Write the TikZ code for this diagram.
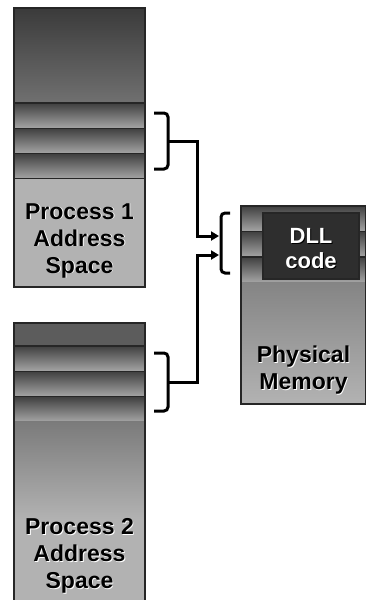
\documentclass[tikz,border=0pt]{standalone}
\usepackage{fontspec}
\setmainfont{Liberation Sans}
\usepackage{tikz}
\usetikzlibrary{arrows.meta}

\begin{document}
\begin{tikzpicture}[
                x=1pt, y=-1pt, % picture units follow the pixels
                box/.style={draw=black!85, line width=1.2pt}, % outline of a memory block
                band/.style={top color=black!75, bottom color=black!35}, % one shared page
                brace/.style={draw, line width=3pt, rounded corners=4pt}, % bracket round the pages
                link/.style={draw, line width=3pt, -{Triangle[length=8pt,width=9pt]}}, % connector
                label/.style={font=\fontsize{23}{27}\selectfont\bfseries, align=center, inner sep=0pt}
                ]
                \useasboundingbox (0,0) rectangle (366,600);

                % process 1
                \fill[top color=black!77, bottom color=black!56] (14,8) rectangle (145,103);
                \foreach \y in {103,128.3,153.6}
                    \draw[box, band] (14,\y) rectangle (145,\y+25.3);
                \fill[black!30] (14,179) rectangle (145,287);
                \draw[box] (14,8) rectangle (145,287);
                \node[label, white] at (80.4,241.4) {Process 1\\Address\\Space};
                \node[label] (p1) at (79.5,240.5) {Process 1\\Address\\Space};

                % process 2
                \fill[black!64] (14,323) rectangle (145,346);
                \foreach \y in {346,371.3,396.6}
                    \draw[box, band] (14,\y) rectangle (145,\y+25.3);
                \fill[top color=black!52, bottom color=black!30] (14,421) rectangle (145,520);
                \fill[black!30] (14,520) rectangle (145,602);
                \draw[box] (14,323) rectangle (145,603);
                \node[label, white] at (80.4,556.4) {Process 2\\Address\\Space};
                \node[label] (p2) at (79.5,555.5) {Process 2\\Address\\Space};

                % physical memory
                \foreach \y in {206,231.5,257}
                    \draw[box, band] (241,\y) rectangle (365.4,\y+25.5);
                \fill[top color=black!48, bottom color=black!30] (241,282.5) rectangle (365.4,404);
                \draw[box] (241,206) rectangle (365.4,404);
                \draw[box, fill=black!82] (263,213) rectangle (359,279);
                \node[label, black, font=\fontsize{22}{25}\selectfont\bfseries] at (312,250) {DLL\\code};
                \node[label, white, font=\fontsize{22}{25}\selectfont\bfseries] (dll) at (311,249) {DLL\\code};
                \node[label, white] at (304.4,371.4) {Physical\\Memory};
                \node[label] (phys) at (303.5,370.5) {Physical\\Memory};

                % brackets
                \coordinate (b1) at (168,141);
                \coordinate (b2) at (168,382);
                \coordinate (b3) at (221,243);
                \draw[brace] (154,113) -| (b1) |- (154,169);
                \draw[brace] (154,353) -| (b2) |- (154,411);
                \draw[brace] (230,213) -| (b3) |- (230,273);

                % links to the shared code
                \coordinate (in1) at (219,236);
                \coordinate (in2) at (219,255);
                \draw[link] (b1) -- (197,141) |- (in1);
                \draw[link] (b2) -- (197,382) |- (in2);
            \end{tikzpicture}
\end{document}
